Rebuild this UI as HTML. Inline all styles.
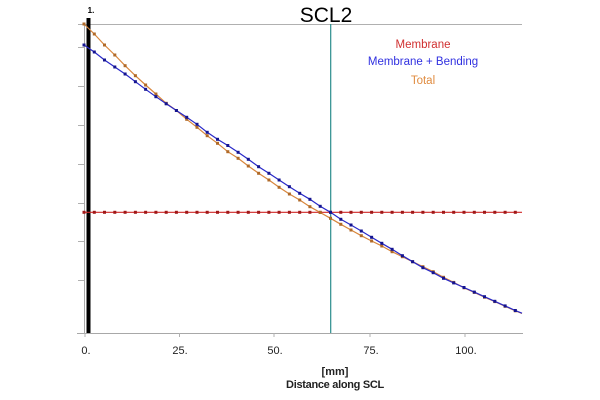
<!DOCTYPE html>
<html><head><meta charset="utf-8"><style>
html,body{margin:0;padding:0;background:#fff;}
svg{display:block;}
text{font-family:"Liberation Sans",Arial,sans-serif;}
</style></head><body>
<svg width="600" height="400" viewBox="0 0 600 400" xmlns="http://www.w3.org/2000/svg">
<defs>
<marker id="mr" markerUnits="userSpaceOnUse" markerWidth="4" markerHeight="4" refX="2" refY="2" orient="0"><rect x="0.5" y="0.5" width="3" height="3" fill="#a01818"/></marker>
<marker id="mo" markerUnits="userSpaceOnUse" markerWidth="4" markerHeight="4" refX="2" refY="2" orient="0"><rect x="0.5" y="0.5" width="3" height="3" fill="#b06a28"/></marker>
<marker id="mb" markerUnits="userSpaceOnUse" markerWidth="4" markerHeight="4" refX="2" refY="2" orient="0"><rect x="0.5" y="0.5" width="3" height="3" fill="#141490"/></marker>
</defs>
<rect width="600" height="400" fill="#fff"/>
<text x="326" y="22" font-size="21" text-anchor="middle" fill="#000">SCL2</text>
<line x1="78" y1="24.5" x2="522" y2="24.5" stroke="#b0b0b0" stroke-width="1"/>
<line x1="84.5" y1="24" x2="84.5" y2="333" stroke="#a8a8a8" stroke-width="1"/>
<g stroke="#b0b0b0" stroke-width="1">
<line x1="78" y1="47.5" x2="84" y2="47.5"/>
<line x1="78" y1="86.5" x2="84" y2="86.5"/>
<line x1="78" y1="125.5" x2="84" y2="125.5"/>
<line x1="78" y1="164.5" x2="84" y2="164.5"/>
<line x1="78" y1="203.5" x2="84" y2="203.5"/>
<line x1="78" y1="241.5" x2="84" y2="241.5"/>
<line x1="78" y1="280.5" x2="84" y2="280.5"/>
</g>
<line x1="77" y1="333.5" x2="523" y2="333.5" stroke="#a8a8a8" stroke-width="1"/>
<g stroke="#b0b0b0" stroke-width="1">
<line x1="85" y1="333" x2="85" y2="337"/>
<line x1="179.5" y1="333" x2="179.5" y2="337"/>
<line x1="274" y1="333" x2="274" y2="337"/>
<line x1="370" y1="333" x2="370" y2="337"/>
<line x1="465" y1="333" x2="465" y2="337"/>
</g>
<g font-size="11" fill="#222" text-anchor="middle">
<text x="86" y="354">0.</text>
<text x="180" y="354">25.</text>
<text x="275" y="354">50.</text>
<text x="371" y="354">75.</text>
<text x="466" y="354">100.</text>
</g>
<text x="335" y="375" font-size="11" font-weight="bold" text-anchor="middle" fill="#222">[mm]</text>
<text x="335" y="388" font-size="11" font-weight="bold" text-anchor="middle" fill="#222" letter-spacing="-0.3">Distance along SCL</text>
<text x="423" y="48" font-size="11.5" text-anchor="middle" fill="#d03030">Membrane</text>
<text x="423" y="65" font-size="11.5" text-anchor="middle" fill="#3030e0">Membrane + Bending</text>
<text x="423" y="84" font-size="11.5" text-anchor="middle" fill="#e08c40">Total</text>
<line x1="330.7" y1="24" x2="330.7" y2="333" stroke="#2a8c8c" stroke-width="1.2"/>
<rect x="86.5" y="18" width="4" height="315" fill="#000"/>
<text x="91" y="13" font-size="8" font-weight="bold" text-anchor="middle" fill="#000">1.</text>

<!-- Membrane (red) -->
<polyline fill="none" stroke="#d02828" stroke-width="1.2" marker-start="url(#mr)" marker-mid="url(#mr)"
points="84.0,212.3 94.3,212.3 104.5,212.3 114.8,212.3 125.1,212.3 135.4,212.3 145.6,212.3 155.9,212.3 166.2,212.3 176.4,212.3 186.7,212.3 197.0,212.3 207.2,212.3 217.5,212.3 227.8,212.3 238.1,212.3 248.3,212.3 258.6,212.3 268.9,212.3 279.1,212.3 289.4,212.3 299.7,212.3 309.9,212.3 320.2,212.3 330.5,212.3 340.8,212.3 351.0,212.3 361.3,212.3 371.6,212.3 381.8,212.3 392.1,212.3 402.4,212.3 412.6,212.3 422.9,212.3 433.2,212.3 443.5,212.3 453.7,212.3 464.0,212.3 474.3,212.3 484.5,212.3 494.8,212.3 505.1,212.3 515.3,212.3 522,212.3"/>

<!-- Total (orange) -->
<polyline fill="none" stroke="#d8863c" stroke-width="1.2" marker-start="url(#mo)" marker-mid="url(#mo)"
points="84.0,24 94.3,34 104.5,45 114.8,55 125.1,65.7 135.4,75.7 145.6,85 155.9,94 166.2,103.3 176.4,110.5 186.7,119.3 197.0,127.3 207.2,135.7 217.5,143.3 227.8,151.7 238.1,158.3 248.3,166 258.6,173.3 268.9,180 279.1,187.3 289.4,194 299.7,200 309.9,206.7 320.2,212.5 330.5,218.3 340.8,224.3 351.0,230 361.3,235.7 371.6,241 381.8,246 392.1,251.7 402.4,256.7 412.6,261.7 422.9,266.7 433.2,271.7 443.5,277.3 453.7,282.4 464.0,287.8 474.3,292.4 484.5,297.2 494.8,301.6 505.1,306.3 515.3,310.8 522,313.5"/>

<!-- Membrane + Bending (blue) -->
<polyline fill="none" stroke="#2828c8" stroke-width="1.2" marker-start="url(#mb)" marker-mid="url(#mb)"
points="84.0,45 94.3,52 104.5,60 114.8,67 125.1,74 135.4,81.7 145.6,89.3 155.9,96.7 166.2,103.8 176.4,110.5 186.7,117.3 197.0,124.3 207.2,132.3 217.5,139.3 227.8,145.5 238.1,152.3 248.3,159.3 258.6,166.7 268.9,173.3 279.1,180 289.4,186.7 299.7,193.3 309.9,199.3 320.2,206.3 330.5,212.3 340.8,219.3 351.0,225 361.3,231 371.6,237.3 381.8,243.3 392.1,249.3 402.4,255.7 412.6,261.7 422.9,267.7 433.2,272.7 443.5,278.3 453.7,282.9 464.0,287.5 474.3,292.1 484.5,296.7 494.8,301.3 505.1,305.9 515.3,310.5 522,313.2"/>
</svg>
</body></html>
